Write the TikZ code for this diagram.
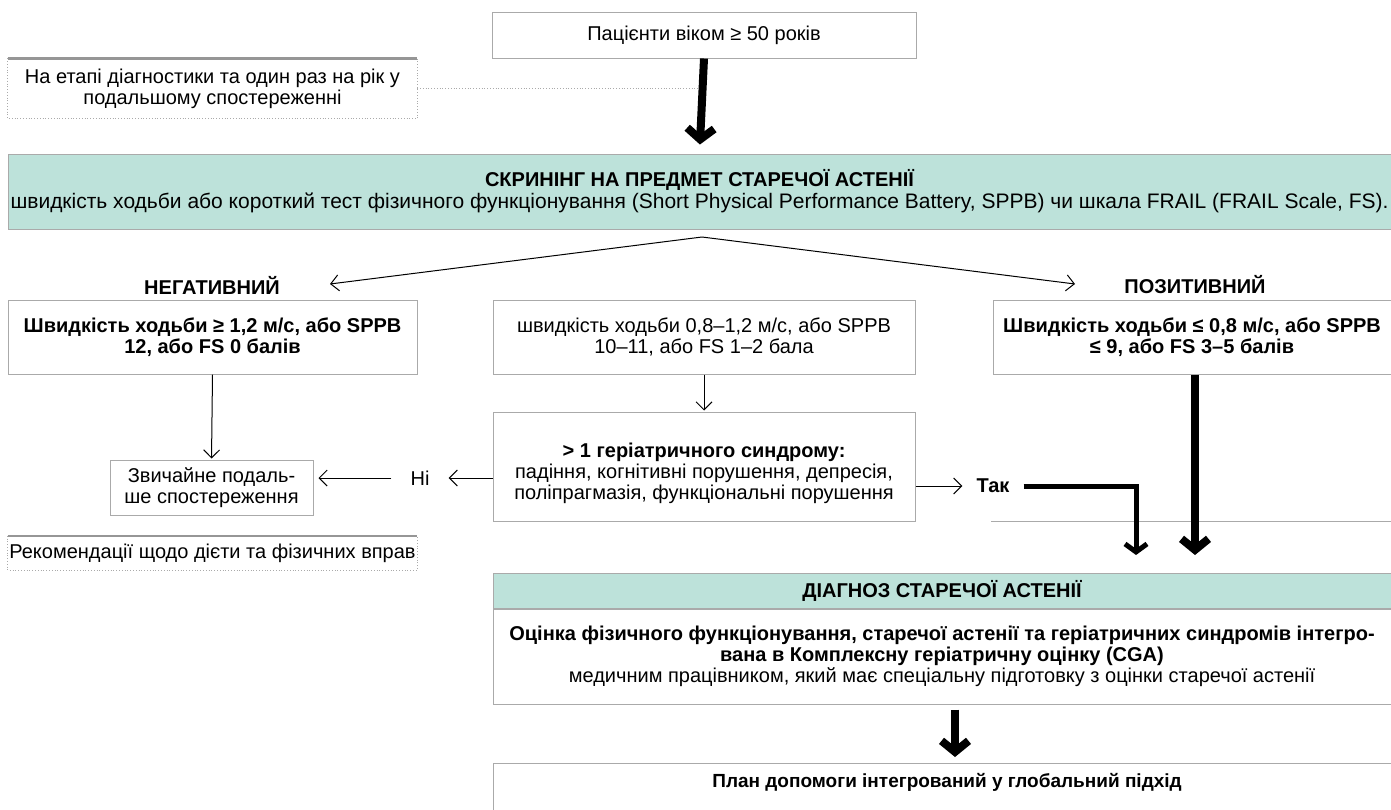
\documentclass[tikz,border=0pt]{standalone}
\usepackage{fontspec}
\setmainfont{Liberation Sans}
\usetikzlibrary{arrows.meta}

\definecolor{tealfill}{RGB}{189,226,218}
\definecolor{boxgray}{RGB}{170,170,170}
\definecolor{rulegray}{RGB}{150,150,150}

\tikzset{
  plainbox/.style={draw=boxgray, line width=1pt, fill=white, align=center, inner sep=0pt},
  tealbox/.style={draw=boxgray, line width=1pt, fill=tealfill, align=center, inner sep=0pt},
  notebox/.style={align=center, inner sep=0pt},
  labeltext/.style={align=center, inner sep=0pt, font=\fontsize{20}{21}\selectfont\bfseries},
  dotline/.style={draw=boxgray, line width=0.8pt, dotted},
  topline/.style={draw=rulegray, line width=2.5pt},
  thinarrow/.style={line width=1pt, -{Straight Barb[length=8pt,width=16pt]}},
  fatarrow/.style={line width=8pt, -{Straight Barb[length=11pt,width=27pt]}},
  midarrow/.style={line width=5pt, -{Straight Barb[length=8pt,width=22pt]}},
}

\begin{document}
\begin{tikzpicture}[x=1pt, y=-1pt, font=\fontsize{20}{21}\selectfont]
\useasboundingbox (0,0) rectangle (1391,809);
\clip (0,0) rectangle (1391,809);

% start of the pathway
\node[plainbox, minimum width=424pt, minimum height=46pt] (top) at (704,35)
  {Пацієнти віком ≥ 50 років};

% side note on timing
\node[notebox, minimum width=409pt, minimum height=60pt] (note1) at (212.5,88.5)
  {На етапі діагностики та один раз на рік у\\подальшому спостереженні};
\draw[dotline] (note1.north west) -- (note1.south west) -- (note1.south east) -- (note1.north east);
\draw[topline] (note1.north west) -- (note1.north east);

% screening
\node[tealbox, minimum width=1383pt, minimum height=75pt] (screen) at (699.5,191.5)
  {{\bfseries СКРИНІНГ НА ПРЕДМЕТ СТАРЕЧОЇ АСТЕНІЇ}\\[1pt]
   {\fontsize{21}{22}\selectfont швидкість ходьби або короткий тест фізичного функціонування (Short Physical Performance Battery, SPPB) чи шкала FRAIL (FRAIL Scale, FS).}};

\draw[dotline] (note1.east) -- (note1.east -| top.south);
\draw[fatarrow, shorten >=9pt] (top.south) -- (screen.north);

% result branches
\coordinate (fork) at (702,237);
\coordinate (negtip) at (330,284);
\coordinate (postip) at (1075,284);
\node[labeltext] (neg) at (212,285) {НЕГАТИВНИЙ};
\node[labeltext] (pos) at (1195,285) {ПОЗИТИВНИЙ};
\draw[thinarrow] (fork) -- (negtip);
\draw[thinarrow] (fork) -- (postip);

\node[plainbox, minimum width=409pt, minimum height=74pt] (left) at (212.5,337)
  {\bfseries Швидкість ходьби ≥ 1,2 м/с, або SPPB\\\bfseries 12, або FS 0 балів};
\node[plainbox, minimum width=422pt, minimum height=74pt] (mid) at (704,337)
  {швидкість ходьби 0,8–1,2 м/с, або SPPB\\10–11, або FS 1–2 бала};
\node[plainbox, minimum width=398pt, minimum height=74pt] (right) at (1192,337)
  {\bfseries Швидкість ходьби ≤ 0,8 м/с, або SPPB\\\bfseries ≤ 9, або FS 3–5 балів};

% geriatric syndromes check: frame, then its text set a little low
\node[plainbox, minimum width=422pt, minimum height=109pt] (ger) at (704,466.5) {};
\node[notebox] (gertext) at (704,473)
  {{\bfseries > 1 геріатричного синдрому:}\\
   падіння, когнітивні порушення, депресія,\\
   поліпрагмазія, функціональні порушення};
\node[plainbox, minimum width=203pt, minimum height=55pt] (zvych) at (211.5,487.5)
  {Звичайне подаль-\\ше спостереження};

\draw[thinarrow, shorten >=1pt] (left.south) -- (zvych.north);
\draw[thinarrow, shorten >=1pt] (mid.south) -- (ger.north);

\node[inner xsep=19pt, inner ysep=2pt] (no) at (420,478) {Ні};
\draw[thinarrow] (ger.west |- no.east) -- (no.east);
\draw[thinarrow, shorten >=5pt] (no.west) -- (zvych.east |- no.west);

\node[labeltext, inner xsep=14pt, inner ysep=2pt] (yes) at (993,486) {Так};
\draw[thinarrow] (ger.east |- yes.west) -- (yes.west);

% faint rule across the right column
\draw[draw=boxgray, line width=1pt] (991,521) -- (1391,521);

\coordinate (yestip) at (1136,555);
\coordinate (postip2) at (1195,555);
\draw[midarrow] (yes.east) -| (yestip);
\draw[fatarrow] (right.south -| postip2) -- (postip2);

% lifestyle note
\node[notebox, minimum width=409pt, minimum height=34pt] (rec) at (212.5,553)
  {Рекомендації щодо дієти та фізичних вправ};
\draw[dotline] (rec.north west) -- (rec.south west) -- (rec.south east) -- (rec.north east);
\draw[topline] (rec.north west) -- (rec.north east);

% diagnosis
\node[tealbox, minimum width=898pt, minimum height=35pt] (diaghead) at (942,590.5)
  {\bfseries ДІАГНОЗ СТАРЕЧОЇ АСТЕНІЇ};
\node[plainbox, minimum width=898pt, minimum height=95pt, anchor=north] (diagbody) at (diaghead.south)
  {{\bfseries Оцінка фізичного функціонування, старечої астенії та геріатричних синдромів інтегро-}\\
   {\bfseries вана в Комплексну геріатричну оцінку (CGA)}\\
   медичним працівником, який має спеціальну підготовку з оцінки старечої астенії};

% care plan
\node[plainbox, minimum width=898pt, minimum height=80pt, anchor=north] (plan) at (942,763) {};
\node[labeltext, font=\fontsize{19}{21}\selectfont\bfseries] (plantext) at (947,782)
  {План допомоги інтегрований у глобальний підхід};
\coordinate (planarrow) at (955,730);
\draw[fatarrow, shorten <=5pt, shorten >=6pt] (diagbody.south -| planarrow) -- (plan.north -| planarrow);
\end{tikzpicture}
\end{document}
